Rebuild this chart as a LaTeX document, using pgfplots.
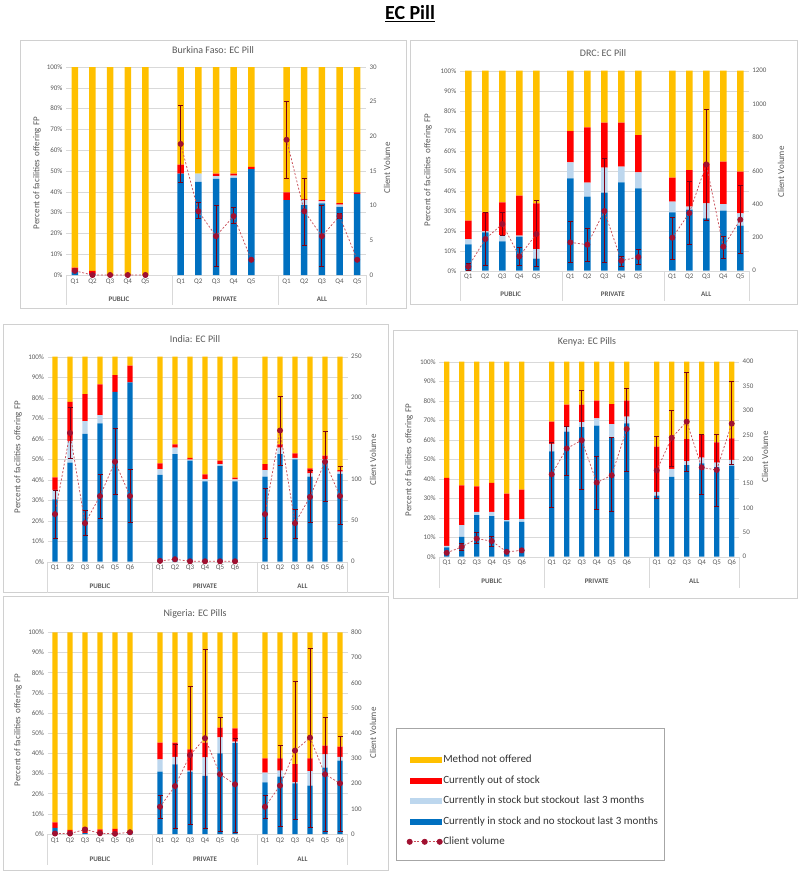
\documentclass[border=0pt]{standalone}
\usepackage{pgfplots}
\usepackage{pgfplotstable}
\pgfplotsset{compat=1.18}
\usepackage{fontspec}
\setmainfont{Carlito}

\definecolor{ecyellow}{HTML}{FFC000}
\definecolor{ecred}{HTML}{FF0000}
\definecolor{eclight}{HTML}{BDD7EE}
\definecolor{ecblue}{HTML}{0070C0}
\definecolor{cvline}{RGB}{200,80,90}
\definecolor{cvmark}{RGB}{160,16,48}
\definecolor{errc}{RGB}{125,0,20}
\definecolor{tickgray}{HTML}{595959}
\definecolor{gridgray}{HTML}{D9D9D9}
\definecolor{boxgray}{HTML}{D0D0D0}

\pgfplotsset{
  panel/.style={scale only axis, anchor=south west, xmin=-0.5, clip=false,
    axis line style={draw=none}, tick style={draw=none},
    ticklabel style={font=\fontsize{7}{8}\selectfont, text=tickgray},
    /pgf/number format/assume math mode=true,
    /pgf/number format/1000 sep={}},
  barax/.style={panel, ybar stacked, ymin=0, ymax=100, ytick={0,10,...,100},
    yticklabel={\pgfmathprintnumber{\tick}\%},
    ymajorgrids, major grid style={gridgray}},
  fiveq/.style={xmax=16.5, xtick={0,1,2,3,4,6,7,8,9,10,12,13,14,15,16},
    xticklabels={Q1,Q2,Q3,Q4,Q5,Q1,Q2,Q3,Q4,Q5,Q1,Q2,Q3,Q4,Q5}},
  sixq/.style={xmax=19.5, xtick={0,1,2,3,4,5,7,8,9,10,11,12,14,15,16,17,18,19},
    xticklabels={Q1,Q2,Q3,Q4,Q5,Q6,Q1,Q2,Q3,Q4,Q5,Q6,Q1,Q2,Q3,Q4,Q5,Q6}},
  cvax/.style={panel, ymin=0, xtick=\empty, yticklabel pos=right},
  cvplot/.style={color=cvline, dash pattern=on 2pt off 1.8pt, line width=0.75pt, mark=*, mark size=2.6pt,
    mark options={solid, fill=cvmark, draw=cvmark}, unbounded coords=jump,
    error bars/y dir=both, error bars/y explicit,
    error bars/error bar style={solid, line width=1pt, draw=errc},
    error bars/error mark options={rotate=90, mark size=2.5pt, line width=0.8pt, draw=errc}},
  swy/.style={legend image code/.code={\fill[ecyellow] (0pt,-2.5pt) rectangle (31pt,2.5pt);}},
  swr/.style={legend image code/.code={\fill[ecred] (0pt,-2.5pt) rectangle (31pt,2.5pt);}},
  swl/.style={legend image code/.code={\fill[eclight] (0pt,-2.5pt) rectangle (31pt,2.5pt);}},
  swb/.style={legend image code/.code={\fill[ecblue] (0pt,-2.5pt) rectangle (31pt,2.5pt);}},
  cvlegend/.style={legend image code/.code={\draw[mark repeat=1,##1] plot coordinates {(0pt,0pt) (15pt,0pt) (30pt,0pt)};}},
}
\tikzset{
  grp/.style={font=\bfseries\fontsize{7}{8}\selectfont, text=tickgray},
  ptitle/.style={font=\fontsize{10}{12}\selectfont, text=tickgray},
  ylab/.style={font=\fontsize{9}{10}\selectfont, text=tickgray, rotate=90},
}

% segments: blue = in stock no stockout, light = stockout last 3 months,
% red = out of stock, yel = not offered
\pgfplotstableread{
x blue light red yel
0 1.5 0 2.0 96.5
1 0.5 0 1.5 98.0
2 0 0 0 100
3 0 0 0 100
4 0 0 0 100
6 48.8 0 4.3 46.9
7 44.8 4.0 0 51.2
8 46.2 1.3 1.3 51.2
9 46.7 1.1 1.0 51.2
10 50.9 0 1.1 48.0
12 36.0 0 3.7 60.3
13 33.6 2.5 0.4 63.5
14 34.4 1.0 0.6 64.0
15 32.8 1.0 0.8 65.4
16 38.9 0 0.8 60.3
}\bfbars
\pgfplotstableread{
x cv ep em
0 0.6 0 0
1 0 0 0
2 0 0 0
3 0 0 0
4 0 0 0
5 nan 0 0
6 18.9 5.5 5.5
7 9.2 1.2 1.1
8 5.6 4.5 4.4
9 8.5 1.2 1.1
10 2.2 0 0
11 nan 0 0
12 19.5 5.5 5.5
13 9.2 4.8 4.9
14 5.6 4.5 4.4
15 8.5 0.4 0.4
16 2.2 0 0
}\bfcv

\pgfplotstableread{
x blue light red yel
0 13.2 2.6 9.2 75.0
1 19.2 0.5 9.5 70.8
2 14.7 3.1 16.4 65.8
3 17.0 0.5 20.0 62.5
4 6.0 4.8 22.9 66.3
6 46.2 8.0 15.6 30.2
7 37.0 7.0 27.7 28.3
8 39.0 12.5 22.5 26.0
9 44.2 7.8 22.0 26.0
10 41.2 8.0 18.6 32.2
12 29.2 5.3 12.0 53.5
13 30.5 1.5 18.3 49.7
14 26.2 7.5 20.0 46.3
15 30.0 3.3 21.2 45.5
16 22.5 6.2 20.8 50.5
}\drcbars
\pgfplotstableread{
x cv ep em
0 24 20 24
1 190 160 160
2 280 70 66
3 86 54 54
4 220 204 196
5 nan 0 0
6 170 124 122
7 156 98 102
8 358 316 310
9 60 28 32
10 82 46 44
11 nan 0 0
12 198 120 128
13 346 188 186
14 638 332 334
15 144 64 70
16 306 204 202
}\drccv

\pgfplotstableread{
x blue light red yel
0 30.4 4.6 6.1 58.9
1 48.3 10.7 19.0 22.0
2 62.3 6.3 13.2 18.2
3 67.5 4.0 15.0 13.5
4 82.9 0 8.1 9.0
5 87.5 0 8.1 4.4
7 42.4 2.8 2.8 52.0
8 52.5 3.1 1.6 42.8
9 49.3 0.5 0.9 49.3
10 39.2 1.1 2.3 57.4
11 46.7 0.9 1.7 50.7
12 39.2 1.0 0.8 59.0
14 41.5 3.2 2.9 52.4
15 52.5 3.1 1.6 42.8
16 49.9 0.8 2.1 47.2
17 41.5 1.6 2.4 54.5
18 48.5 1.5 1.7 48.3
19 42.8 1.1 0.8 55.3
}\indbars
\pgfplotstableread{
x cv ep em
0 58 29 29.5
1 157 31 31
2 47 15 15
3 80 26 27
4 122 41 40
5 80 33 32
6 nan 0 0
7 1 0 0
8 3 0 0
9 0.5 0 0
10 0.5 0 0
11 0.5 0 0
12 0.5 0 0
13 nan 0 0
14 58 31 30
15 160 42 43
16 47 17 19
17 79 32 31
18 122 37 48
19 80 36 35
}\indcv

\pgfplotstableread{
x blue light red yel
0 4.8 0.8 34.8 59.6
1 10.2 6.0 20.4 63.4
2 21.3 1.7 13.1 63.9
3 20.8 2.2 14.8 62.2
4 18.1 0.6 13.7 67.6
5 17.9 1.4 15.1 65.6
7 54.0 3.9 11.4 30.7
8 64.2 2.2 11.6 22.0
9 66.4 2.6 9.0 22.0
10 67.2 3.7 9.1 20.0
11 61.0 7.0 10.3 21.7
12 68.4 3.4 8.2 20.0
14 31.3 2.0 23.1 43.6
15 40.9 4.1 16.0 39.0
16 47.0 2.0 11.3 39.7
17 47.9 2.9 11.6 37.6
18 46.0 2.2 10.4 41.4
19 46.7 2.9 11.1 39.3
}\kenbars
\pgfplotstableread{
x cv ep em
0 8 0 0
1 20 7 7
2 37 12 10
3 32 10 10
4 10 0 0
5 13 0 0
6 nan 0 0
7 169 66 68
8 222 45 55
9 239 102 101
10 152 53 55
11 167 77 75
12 262 84 86
13 nan 0 0
14 177 69 57
15 244 57 59
16 277 101 101
17 183 67 55
18 178 73 75
19 273 86 84
}\kencv

\pgfplotstableread{
x blue light red yel
0 3.1 0 2.7 94.2
1 0.8 0 1.2 98.0
2 0.5 0 2.8 96.7
3 0.8 0 1.5 97.7
4 0.8 0 1.8 97.4
5 1.2 0 0.3 98.5
7 30.9 6.1 8.3 54.7
8 34.5 3.8 7.0 54.7
9 30.9 0.5 10.6 58.0
10 28.8 9.2 7.3 54.7
11 40.0 7.9 4.8 47.3
12 45.0 0.8 6.6 47.6
14 25.6 4.8 7.1 62.5
15 28.4 3.0 6.1 62.5
16 25.1 0.5 9.1 65.3
17 24.0 7.2 6.3 62.5
18 32.9 6.6 4.3 56.2
19 36.4 1.9 5.0 56.7
}\nigbars
\pgfplotstableread{
x cv ep em
0 2 0 0
1 2 0 0
2 18 0 0
3 3 0 0
4 1 0 0
5 7 0 0
6 nan 0 0
7 108 47 48
8 190 167 168
9 313 272 273
10 380 353 358
11 237 225 228
12 197 182 190
13 nan 0 0
14 108 47 46
15 192 161 163
16 331 273 275
17 382 353 357
18 237 225 228
19 201 188 189
}\nigcv

\newcommand{\stackbars}[1]{%
  \addplot[fill=ecblue, draw=none] table[x=x, y=blue] {#1};
  \addplot[fill=eclight, draw=none] table[x=x, y=light] {#1};
  \addplot[fill=ecred, draw=none] table[x=x, y=red] {#1};
  \addplot[fill=ecyellow, draw=none] table[x=x, y=yel] {#1};
}
\newcommand{\groupsfive}{%
  \draw[gridgray] (axis cs:-0.5,0) -- ++(0pt,-30pt);
  \draw[gridgray] (axis cs:5.5,0) -- ++(0pt,-30pt);
  \draw[gridgray] (axis cs:11.5,0) -- ++(0pt,-30pt);
  \draw[gridgray] (axis cs:16.5,0) -- ++(0pt,-30pt);
  \node[grp, yshift=-24pt] at (axis cs:2.5,0) {PUBLIC};
  \node[grp, yshift=-24pt] at (axis cs:8.5,0) {PRIVATE};
  \node[grp, yshift=-24pt] at (axis cs:14,0) {ALL};
}
\newcommand{\groupssix}{%
  \draw[gridgray] (axis cs:-0.5,0) -- ++(0pt,-31pt);
  \draw[gridgray] (axis cs:6.5,0) -- ++(0pt,-31pt);
  \draw[gridgray] (axis cs:13.5,0) -- ++(0pt,-31pt);
  \draw[gridgray] (axis cs:19.5,0) -- ++(0pt,-31pt);
  \node[grp, yshift=-25pt] at (axis cs:3,0) {PUBLIC};
  \node[grp, yshift=-25pt] at (axis cs:10,0) {PRIVATE};
  \node[grp, yshift=-25pt] at (axis cs:16.5,0) {ALL};
}

\begin{document}
\begin{tikzpicture}
\path (0pt,0pt) rectangle (800pt,-873pt);
\node[font=\bfseries\fontsize{20}{23}\selectfont] at (410pt,-14pt) {\underline{EC Pill}};

% panel frames
\draw[boxgray] (20pt,-40pt) rectangle (406pt,-308pt);
\draw[boxgray] (410pt,-40pt) rectangle (797pt,-304pt);
\draw[boxgray] (3pt,-324pt) rectangle (388pt,-592pt);
\draw[boxgray] (393pt,-330pt) rectangle (797pt,-598pt);
\draw[boxgray] (3pt,-596pt) rectangle (388pt,-870pt);
\draw[gray!70] (396pt,-728pt) rectangle (664pt,-860pt);

% ---------------- Burkina Faso
\begin{axis}[barax, fiveq, at={(66pt,-275pt)}, width=300pt, height=208pt, bar width=6.5pt]
\stackbars{\bfbars}
\groupsfive
\end{axis}
\begin{axis}[cvax, xmax=16.5, at={(66pt,-275pt)}, width=300pt, height=208pt, ymax=30, ytick distance=5]
\addplot[mark size=3pt, cvplot] table[x=x, y=cv, y error plus=ep, y error minus=em] {\bfcv};
\end{axis}
\node[ptitle] at (213pt,-50pt) {Burkina Faso: EC Pill};
\node[ylab] at (37pt,-173pt) {Percent of facilities\, offering FP};
\node[ylab] at (387pt,-168pt) {Client Volume};

% ---------------- DRC
\begin{axis}[barax, fiveq, at={(459.8pt,-270.7pt)}, width=289pt, height=200pt, bar width=6.5pt]
\stackbars{\drcbars}
\groupsfive
\end{axis}
\begin{axis}[cvax, xmax=16.5, at={(459.8pt,-270.7pt)}, width=289pt, height=200pt, ymax=1200, ytick distance=200]
\addplot[cvplot] table[x=x, y=cv, y error plus=ep, y error minus=em] {\drccv};
\end{axis}
\node[ptitle] at (603pt,-53pt) {DRC: EC Pill};
\node[ylab] at (428pt,-170pt) {Percent of facilities\, offering FP};
\node[ylab] at (781pt,-172pt) {Client Volume};

% ---------------- India
\begin{axis}[barax, sixq, at={(47.5pt,-561.7pt)}, width=300pt, height=205pt, bar width=5.3pt]
\stackbars{\indbars}
\groupssix
\end{axis}
\begin{axis}[cvax, xmax=19.5, at={(47.5pt,-561.7pt)}, width=300pt, height=205pt, ymax=250, ytick distance=50]
\addplot[cvplot] table[x=x, y=cv, y error plus=ep, y error minus=em] {\indcv};
\end{axis}
\node[ptitle] at (195pt,-339pt) {India: EC Pill};
\node[ylab] at (18pt,-457pt) {Percent of facilities\, offering FP};
\node[ylab] at (373pt,-460pt) {Client Volume};

% ---------------- Kenya
\begin{axis}[barax, sixq, at={(439.2pt,-556.7pt)}, width=300pt, height=195pt, bar width=5.3pt]
\stackbars{\kenbars}
\groupssix
\end{axis}
\begin{axis}[cvax, xmax=19.5, at={(439.2pt,-556.7pt)}, width=300pt, height=195pt, ymax=400, ytick distance=50]
\addplot[mark size=2.4pt, cvplot] table[x=x, y=cv, y error plus=ep, y error minus=em] {\kencv};
\end{axis}
\node[ptitle] at (587pt,-342pt) {Kenya: EC Pills};
\node[ylab] at (409pt,-460pt) {Percent of facilities\, offering FP};
\node[ylab] at (765pt,-457pt) {Client Volume};

% ---------------- Nigeria (carries the legend)
\begin{axis}[barax, sixq, at={(47.5pt,-834pt)}, width=300pt, height=201.7pt, bar width=5.3pt]
\stackbars{\nigbars}
\groupssix
\end{axis}
\begin{axis}[cvax, xmax=19.5, at={(47.5pt,-834pt)}, width=300pt, height=201.7pt, ymax=800, ytick distance=100,
  legend cell align=left,
  legend style={at={(1.198,0.395)}, anchor=north west, draw=none, fill=none, inner sep=0pt,
    row sep=10pt, column sep=1pt,
    font=\fontsize{11}{12}\selectfont,
    nodes={inner sep=0pt, text height=8pt, text depth=2.5pt, text=black!80}}]
\addlegendimage{swy}\addlegendentry{Method not offered}
\addlegendimage{swr}\addlegendentry{Currently out of stock}
\addlegendimage{swl}\addlegendentry{Currently in stock but stockout\, last 3 months}
\addlegendimage{swb}\addlegendentry{Currently in stock and no stockout last 3 months}
\addplot[cvlegend, cvplot] table[x=x, y=cv, y error plus=ep, y error minus=em] {\nigcv};
\addlegendentry{Client volume}
\end{axis}
\node[ptitle] at (195pt,-614pt) {Nigeria: EC Pills};
\node[ylab] at (18pt,-730pt) {Percent of facilities\, offering FP};
\node[ylab] at (373pt,-733pt) {Client Volume};
\end{tikzpicture}
\end{document}
